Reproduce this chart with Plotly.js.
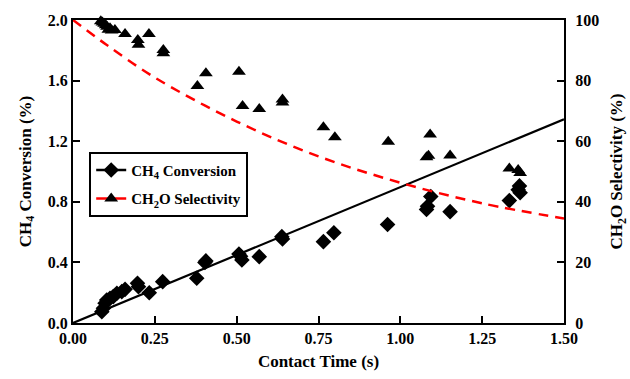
<!DOCTYPE html>
<html>
<head>
<meta charset="utf-8">
<script src="https://cdn.plot.ly/plotly-3.0.1.min.js"></script>
<style>html,body{margin:0;padding:0;background:#fff;}#chart{width:630px;height:379px;}</style>
</head>
<body>
<div id="chart"></div>
<script>
// CH4 conversion (%) vs contact time (s)
const convTime = [0.088,0.093,0.098,0.103,0.113,0.123,0.134,0.149,0.159,0.197,0.200,0.233,0.274,0.378,0.403,0.406,0.507,0.512,0.516,0.569,0.638,0.640,0.765,0.797,0.961,1.080,1.083,1.093,1.152,1.333,1.360,1.364,1.366];
const convValue = [0.075,0.097,0.13,0.152,0.163,0.174,0.196,0.207,0.222,0.262,0.24,0.20,0.273,0.295,0.40,0.41,0.455,0.44,0.416,0.438,0.57,0.555,0.537,0.596,0.65,0.75,0.77,0.835,0.735,0.808,0.88,0.905,0.86];
// CH2O selectivity (%) vs contact time (s)
const selTime = [0.085,0.090,0.095,0.100,0.104,0.108,0.113,0.118,0.128,0.159,0.198,0.200,0.232,0.276,0.276,0.380,0.406,0.507,0.518,0.569,0.640,0.640,0.765,0.800,0.963,1.080,1.086,1.091,1.152,1.333,1.360,1.366];
const selValue = [99.6,99.2,98.8,98.3,97.8,96.8,97.3,96.5,96.7,95.4,93.4,91.8,95.4,90.1,89.0,78.2,82.4,82.9,71.6,70.6,73.8,72.8,64.6,61.3,59.8,54.7,55.2,62.2,55.3,51.0,50.5,49.5];
// Linear fit of conversion
const convFitTime = [0, 1.5];
const convFitValue = [0, 1.345];
// Fitted selectivity curve
const selFitTime = [0, 0.1, 0.25, 0.5, 0.75, 1.0, 1.25, 1.5];
const selFitValue = [100, 92, 81, 66.5, 55, 46.3, 39.5, 34.5];
// Axis ticks
const xTicks = [0, 0.25, 0.5, 0.75, 1.0, 1.25, 1.5];
const yLeftTicks = [0, 0.4, 0.8, 1.2, 1.6, 2.0];
const yRightTicks = [0, 20, 40, 60, 80, 100];
const legendNames = ['<b>CH<sub>4</sub> Conversion</b>', '<b>CH<sub>2</sub>O Selectivity</b>'];

const FONT = 'Liberation Serif, Times New Roman, serif';

const traces = [
  {x: convFitTime, y: convFitValue, mode: 'lines', line: {color: '#000', width: 2.2}, showlegend: false, hoverinfo: 'skip'},
  {x: selFitTime, y: selFitValue, yaxis: 'y2', mode: 'lines', line: {color: '#ff0000', width: 2.5, dash: '10px,7px', shape: 'spline'}, showlegend: false, hoverinfo: 'skip'},
  {x: convTime, y: convValue, mode: 'markers', marker: {symbol: 'diamond', size: 12, color: '#000'}, showlegend: false, cliponaxis: false},
  {x: selTime, y: selValue, yaxis: 'y2', mode: 'markers', marker: {symbol: 'triangle-up', size: 12, color: '#000'}, showlegend: false, cliponaxis: false},
  {x: [null], y: [null], mode: 'lines+markers', name: legendNames[0], legendgroup: 'a', line: {color: '#000', width: 2.5}, marker: {symbol: 'diamond', size: 12, color: '#000'}},
  {x: [null], y: [null], mode: 'lines+markers', name: legendNames[1], legendgroup: 'b', line: {color: '#ff0000', width: 2.5}, marker: {symbol: 'triangle-up', size: 12, color: '#000'}}
];

const layout = {
  width: 630, height: 379,
  margin: {l: 73, r: 66, t: 20, b: 56},
  paper_bgcolor: '#fff', plot_bgcolor: '#fff',
  font: {family: FONT, color: '#000', size: 14},
  showlegend: true,
  legend: {x: 0.033, y: 0.565, xanchor: 'left', yanchor: 'top', bgcolor: '#fff', bordercolor: '#000', borderwidth: 2,
           font: {family: FONT, size: 15}, traceorder: 'grouped', tracegroupgap: 6, itemwidth: 30},
  xaxis: {range: [0, 1.5], tickvals: xTicks, tickformat: '.2f', ticks: 'inside', ticklen: 7, tickwidth: 2, tickcolor: '#000',
          showline: true, linewidth: 2, linecolor: '#000', mirror: true, showgrid: false, zeroline: false,
          tickfont: {family: FONT, size: 16, weight: 'bold'},
          title: {text: '<b>Contact Time (s)</b>', font: {family: FONT, size: 17}, standoff: 9}},
  yaxis: {range: [0, 2.0], tickvals: yLeftTicks, tickformat: '.1f', ticks: 'inside', ticklen: 7, tickwidth: 2, tickcolor: '#000',
          showline: true, linewidth: 2, linecolor: '#000', mirror: true, showgrid: false, zeroline: false,
          tickfont: {family: FONT, size: 16, weight: 'bold'},
          title: {text: '<b>CH<sub>4</sub> Conversion (%)</b>', font: {family: FONT, size: 17}, standoff: 12}},
  yaxis2: {range: [0, 100], tickvals: yRightTicks, overlaying: 'y', side: 'right', ticks: 'inside', ticklen: 7, tickwidth: 2, tickcolor: '#000',
           showline: true, linewidth: 2, linecolor: '#000', showgrid: false, zeroline: false, ticklabelstandoff: 6,
           tickfont: {family: FONT, size: 16, weight: 'bold'},
           title: {text: '<b>CH<sub>2</sub>O Selectivity (%)</b>', font: {family: FONT, size: 17}, standoff: 12}}
};

Plotly.newPlot('chart', traces, layout, {displayModeBar: false, staticPlot: true});
</script>
</body>
</html>
